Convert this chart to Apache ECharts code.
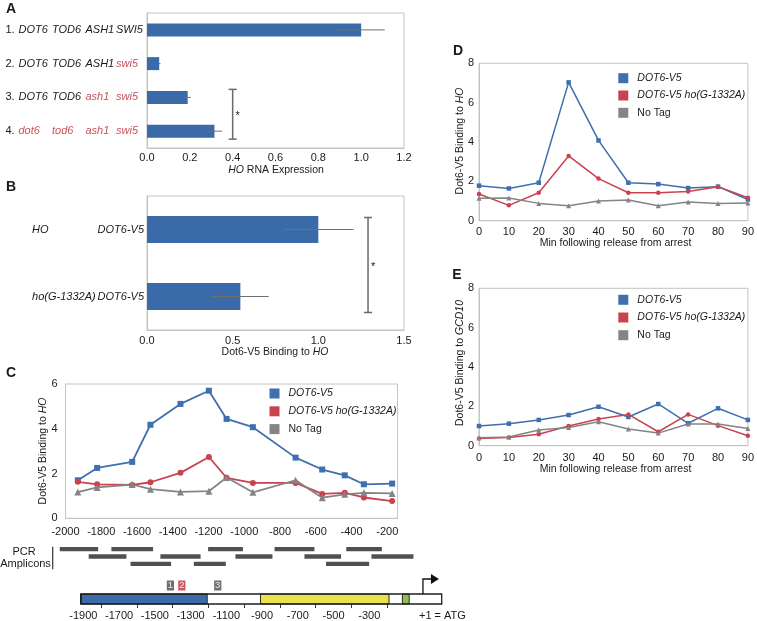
<!DOCTYPE html>
<html><head><meta charset="utf-8">
<script src="https://cdn.jsdelivr.net/npm/echarts@6/dist/echarts.min.js"></script>
<style>html,body{margin:0;padding:0;background:#fff}#c{width:757px;height:621px}</style>
</head><body><div id="c"></div>
<script>
// ---------- DATA ----------
// Panel A
const catsA = ['1. DOT6 TOD6 ASH1 SWI5','2. DOT6 TOD6 ASH1 swi5','3. DOT6 TOD6 ash1 swi5','4. dot6 tod6 ash1 swi5'];
const valsA = [1.0, 0.057, 0.19, 0.315];
const errA = [0.11, 0.006, 0.015, 0.035];
const ticksA = [0, 0.2, 0.4, 0.6, 0.8, 1.0, 1.2];
const sigA = [0.4, 2, 3];
// Panel B
const catsB = ['HO|DOT6-V5', 'ho(G-1332A)|DOT6-V5'];
const valsB = [1.0, 0.545];
const errB = [0.205, 0.165];
const ticksB = [0, 0.5, 1.0, 1.5];
const sigB = [1.29, 0, 1];
// Panel C
const seriesNames = ['DOT6-V5', 'DOT6-V5 ho(G-1332A)', 'No Tag'];
const posC = [-1931,-1823,-1627,-1525,-1357,-1198,-1099,-952,-713,-564,-438,-331,-173];
const blueC = [1.70,2.25,2.52,4.18,5.11,5.70,4.44,4.07,2.71,2.18,1.92,1.52,1.55];
const redC  = [1.63,1.52,1.49,1.61,2.03,2.74,1.81,1.58,1.58,1.09,1.14,0.93,0.77];
const grayC = [1.17,1.38,1.51,1.30,1.18,1.21,1.82,1.16,1.70,0.92,1.07,1.14,1.11];
const ticksCx = [-2000,-1800,-1600,-1400,-1200,-1000,-800,-600,-400,-200];
const ticksCy = [0, 2, 4, 6];
// PCR amplicons (bp) and row
const ampStart = [-2032,-1743,-1202,-830,-429, -1870,-1469,-1049,-663,-288, -1636,-1282,-542];
const ampEnd   = [-1817,-1510,-1007,-607,-230, -1659,-1244,-842,-458,-53,  -1409,-1103,-301];
const ampRow   = [0,0,0,0,0, 1,1,1,1,1, 2,2,2];
// Gene map (bp)
const geneBox = [-1915, 105];
const regionStart = [-1910, -909, -115];
const regionEnd   = [-1207, -190, -77];
const siteX = [-1413, -1349, -1148];
const siteLabel = ['1', '2', '3'];
const mapLabels = [-1900,-1700,-1500,-1300,-1100,-900,-700,-500,-300];
const mapTicks = [-1800,-1600,-1400,-1200,-1000,-800,-600,-400,-200];
// Panels D, E
const minutes = [0,10,20,30,40,50,60,70,80,90];
const blueD = [1.78,1.64,1.93,7.03,4.08,1.93,1.86,1.66,1.73,1.08];
const redD  = [1.36,0.78,1.42,3.29,2.14,1.42,1.42,1.49,1.73,1.17];
const grayD = [1.14,1.15,0.88,0.76,1.00,1.05,0.76,0.95,0.88,0.90];
const blueE = [1.00,1.12,1.31,1.56,1.98,1.46,2.12,1.14,1.90,1.31];
const redE  = [0.37,0.42,0.58,1.00,1.36,1.59,0.71,1.59,1.02,0.51];
const grayE = [0.41,0.44,0.80,0.93,1.22,0.85,0.64,1.10,1.10,0.88];
const ticksDE = [0, 2, 4, 6, 8];

// ---------- STYLE ----------
const FONT = '"Liberation Sans", Arial, Helvetica, sans-serif';
const TXT = '#1a1a1a';
const RED_TXT = '#c8505a';
const BLUE = '#3f6fae', RED = '#c9434f', GRAY = '#848484';
const BAR = '#3a6aa7';
const FRAME = '#c4c4c4';
const lab = {color: TXT, fontSize: 11, fontFamily: FONT};
const axLine = {show: true, lineStyle: {color: FRAME, width: 1}};
const noTick = {show: false};
const noSplit = {show: false};
const plain = v => String(v);

const chart = echarts.init(document.getElementById('c'), null, {renderer: 'canvas'});

function valAxis(grid, ticks, extra) {
  return Object.assign({
    gridIndex: grid, type: 'value', min: ticks[0], max: ticks[ticks.length - 1],
    interval: ticks[1] - ticks[0], axisLine: axLine, axisTick: noTick, splitLine: noSplit,
    axisLabel: Object.assign({}, lab)
  }, extra || {});
}
function hidden(grid, min, max, inverse) {
  return {gridIndex: grid, type: 'value', min, max, inverse: !!inverse, show: false,
    axisLine: {show: false}, axisTick: noTick, splitLine: noSplit, axisLabel: {show: false}};
}
function mkLine(name, xs, ys, axis, symbol, color, size, width) {
  return {type: 'line', name, xAxisIndex: axis, yAxisIndex: axis,
    data: xs.map((x, i) => [x, ys[i]]), symbol, symbolSize: size, showSymbol: true,
    lineStyle: {color, width}, itemStyle: {color}, emphasis: {disabled: true}, z: 3};
}
function errSeries(axis, vals, errs) {
  return {type: 'custom', xAxisIndex: axis, yAxisIndex: axis, z: 5,
    data: vals.map((v, i) => [v, i, errs[i]]), encode: {x: 0, y: 1},
    renderItem: (p, api) => {
      const v = api.value(0), i = api.value(1), e = api.value(2);
      const a = api.coord([v - e, i]), b = api.coord([v + e, i]);
      return {type: 'line', shape: {x1: a[0], y1: a[1], x2: b[0], y2: b[1]},
        style: {stroke: '#6f6f6f', lineWidth: 1}};
    }};
}
function sigSeries(axis, sig, extTop, extBot) {
  return {type: 'custom', xAxisIndex: axis, yAxisIndex: axis, z: 5,
    data: [sig], encode: {x: 0, y: 1},
    renderItem: (p, api) => {
      const x = api.value(0);
      const a = api.coord([x, api.value(1)]), b = api.coord([x, api.value(2)]);
      const y1 = a[1] - extTop, y2 = b[1] + extBot, cx = a[0];
      const st = {stroke: '#6a6a6a', lineWidth: 1.5};
      return {type: 'group', children: [
        {type: 'line', shape: {x1: cx, y1, x2: cx, y2}, style: st},
        {type: 'line', shape: {x1: cx - 4, y1, x2: cx + 4, y2: y1}, style: st},
        {type: 'line', shape: {x1: cx - 4, y1: y2, x2: cx + 4, y2}, style: st},
        {type: 'text', x: cx + 5, y: (y1 + y2) / 2 + 2,
          style: {text: '*', fill: TXT, fontSize: 11, fontFamily: FONT, align: 'center', verticalAlign: 'middle'}}
      ]};
    }};
}
function legendAt(left, top, gap) {
  return {data: seriesNames, orient: 'vertical', left, top, itemWidth: 10, itemHeight: 10,
    itemGap: gap, icon: 'rect', selectedMode: false, padding: 0,
    formatter: n => n === 'No Tag' ? '{n|' + n + '}' : '{i|' + n + '}',
    textStyle: {fontFamily: FONT, fontSize: 10.5, color: TXT,
      rich: {
        i: {fontFamily: FONT, fontSize: 10.5, color: TXT, fontStyle: 'italic', padding: [0, 0, 0, 4], lineHeight: 10},
        n: {fontFamily: FONT, fontSize: 10.5, color: TXT, padding: [0, 0, 0, 4], lineHeight: 10}
      }}};
}
function gtext(x, y, text, opts) {
  opts = opts || {};
  return {type: 'text', x, y, rotation: opts.rot || 0, z: 10,
    style: {text, fill: TXT, fontFamily: FONT, fontSize: opts.size || 10.5,
      fontWeight: opts.bold ? 'bold' : 'normal', align: opts.align || 'center',
      verticalAlign: 'middle',
      rich: {i: {fontStyle: 'italic', fontFamily: FONT, fontSize: opts.size || 10.5, fill: TXT}}}};
}

// Category label formatters
const richA = {n: {width: 13, align: 'left', fontSize: 11, fontFamily: FONT, color: TXT}};
const colW = [33.5, 33.5, 30.5, 27];
colW.forEach((w, k) => {
  richA['k' + k] = {width: w, align: 'left', fontSize: 11, fontFamily: FONT, fontStyle: 'italic', color: TXT};
  richA['r' + k] = {width: w, align: 'left', fontSize: 11, fontFamily: FONT, fontStyle: 'italic', color: RED_TXT};
});
function fmtA(v) {
  const parts = v.split(' ');
  let s = '{n|' + parts[0] + '}';
  parts.slice(1).forEach((g, k) => {
    const mutant = g === g.toLowerCase();
    s += '{' + (mutant ? 'r' : 'k') + k + '|' + g + '}';
  });
  return s;
}
function fmtB(v) {
  const p = v.split('|');
  return '{a|' + p[0] + '}{b|' + p[1] + '}';
}

const option = {
  animation: false,
  backgroundColor: '#fff',
  textStyle: {fontFamily: FONT},
  grid: [
    {left: 147, top: 13, width: 257, height: 135, show: true, borderColor: FRAME, borderWidth: 1},
    {left: 147, top: 196, width: 257, height: 134, show: true, borderColor: FRAME, borderWidth: 1},
    {left: 65.5, top: 384, width: 332, height: 134.3, show: true, borderColor: FRAME, borderWidth: 1},
    {left: 479, top: 63.3, width: 273, height: 157.4, show: true, borderColor: FRAME, borderWidth: 1},
    {left: 479, top: 288.3, width: 273, height: 157.4, show: true, borderColor: FRAME, borderWidth: 1},
    {left: 47.6, top: 545.5, width: 411.1, height: 22},
    {left: 47.6, top: 594, width: 411.1, height: 11}
  ],
  xAxis: [
    valAxis(0, ticksA, {axisLabel: Object.assign({}, lab, {margin: 4, formatter: v => v.toFixed(1)})}),
    valAxis(1, ticksB, {axisLabel: Object.assign({}, lab, {margin: 5, formatter: v => v.toFixed(1)})}),
    {gridIndex: 2, type: 'value', min: ticksCx[0], max: -143, interval: ticksCx[1] - ticksCx[0],
      axisLine: axLine, axisTick: noTick, splitLine: noSplit,
      axisLabel: Object.assign({}, lab, {margin: 8, customValues: ticksCx, formatter: plain})},
    {gridIndex: 3, type: 'value', min: 0, max: 90, interval: 10, axisLine: axLine, axisTick: noTick, splitLine: noSplit,
      axisLabel: Object.assign({}, lab, {margin: 6})},
    {gridIndex: 4, type: 'value', min: 0, max: 90, interval: 10, axisLine: axLine, axisTick: noTick, splitLine: noSplit,
      axisLabel: Object.assign({}, lab, {margin: 7})},
    hidden(5, -2100, 200),
    {gridIndex: 6, type: 'value', min: -2100, max: 200, axisLine: {show: false}, splitLine: noSplit,
      axisTick: {show: true, customValues: mapTicks, length: 4, lineStyle: {color: '#333', width: 1}},
      axisLabel: Object.assign({}, lab, {margin: 6, customValues: mapLabels, formatter: plain})}
  ],
  yAxis: [
    {gridIndex: 0, type: 'category', data: catsA, inverse: true, axisLine: axLine, axisTick: noTick,
      axisLabel: {interval: 0, margin: 4, formatter: fmtA, rich: richA}},
    {gridIndex: 1, type: 'category', data: catsB, inverse: true, axisLine: axLine, axisTick: noTick,
      axisLabel: {interval: 0, margin: 3, formatter: fmtB, rich: {
        a: {width: 65.5, align: 'left', fontSize: 11, fontFamily: FONT, fontStyle: 'italic', color: TXT},
        b: {align: 'left', fontSize: 11, fontFamily: FONT, fontStyle: 'italic', color: TXT}}}},
    valAxis(2, ticksCy, {axisLabel: Object.assign({}, lab, {margin: 8})}),
    valAxis(3, ticksDE, {axisLabel: Object.assign({}, lab, {margin: 5})}),
    valAxis(4, ticksDE, {axisLabel: Object.assign({}, lab, {margin: 5})}),
    hidden(5, 0, 3, true),
    hidden(6, 0, 1)
  ],
  legend: [legendAt(269.5, 388, 6.8), legendAt(618.3, 72.7, 6.3), legendAt(618.3, 294.3, 6.7)],
  series: [
    // A
    {type: 'bar', xAxisIndex: 0, yAxisIndex: 0, data: valsA, barWidth: 13, itemStyle: {color: BAR}, z: 2},
    errSeries(0, valsA, errA),
    sigSeries(0, sigA, 8, 8),
    // B
    {type: 'bar', xAxisIndex: 1, yAxisIndex: 1, data: valsB, barWidth: 27, itemStyle: {color: BAR}, z: 2},
    errSeries(1, valsB, errB),
    sigSeries(1, sigB, 12, 16),
    // C
    mkLine(seriesNames[0], posC, blueC, 2, 'rect', BLUE, 6, 1.8),
    mkLine(seriesNames[1], posC, redC, 2, 'circle', RED, 6, 1.8),
    mkLine(seriesNames[2], posC, grayC, 2, 'triangle', GRAY, 7, 1.8),
    // D
    mkLine(seriesNames[0], minutes, blueD, 3, 'rect', BLUE, 4.5, 1.5),
    mkLine(seriesNames[1], minutes, redD, 3, 'circle', RED, 4.5, 1.5),
    mkLine(seriesNames[2], minutes, grayD, 3, 'triangle', GRAY, 5, 1.5),
    // E
    mkLine(seriesNames[0], minutes, blueE, 4, 'rect', BLUE, 4.5, 1.5),
    mkLine(seriesNames[1], minutes, redE, 4, 'circle', RED, 4.5, 1.5),
    mkLine(seriesNames[2], minutes, grayE, 4, 'triangle', GRAY, 5, 1.5),
    // PCR amplicons
    {type: 'custom', xAxisIndex: 5, yAxisIndex: 5, encode: {x: [0, 1], y: 2},
      data: ampStart.map((s, i) => [s, ampEnd[i], ampRow[i]]),
      renderItem: (p, api) => {
        const r = api.value(2) + 0.5;
        const a = api.coord([api.value(0), r]), b = api.coord([api.value(1), r]);
        return {type: 'rect', shape: {x: a[0], y: a[1] - 2.2, width: b[0] - a[0], height: 4.4},
          style: {fill: '#505050'}};
      }},
    // Gene map: box background
    {type: 'custom', xAxisIndex: 6, yAxisIndex: 6, z: 2, encode: {x: [0, 1]},
      data: [geneBox],
      renderItem: (p, api) => {
        const a = api.coord([api.value(0), 1]), b = api.coord([api.value(1), 0]);
        return {type: 'rect', shape: {x: a[0], y: a[1], width: b[0] - a[0], height: b[1] - a[1]},
          style: {fill: '#fff', stroke: 'none'}};
      }},
    // Gene map: regions
    {type: 'custom', xAxisIndex: 6, yAxisIndex: 6, z: 3, encode: {x: [0, 1]},
      data: regionStart.map((s, i) => [s, regionEnd[i], i]),
      renderItem: (p, api) => {
        const fills = ['#3b6bab', '#e8e24e', '#8fbf4e'];
        const a = api.coord([api.value(0), 1]), b = api.coord([api.value(1), 0]);
        return {type: 'rect', shape: {x: a[0], y: a[1], width: b[0] - a[0], height: b[1] - a[1]},
          style: {fill: fills[api.value(2)], stroke: '#2a2a2a', lineWidth: 1}};
      }},
    // Gene map: outline
    {type: 'custom', xAxisIndex: 6, yAxisIndex: 6, z: 4, encode: {x: [0, 1]},
      data: [geneBox],
      renderItem: (p, api) => {
        const a = api.coord([api.value(0), 1]), b = api.coord([api.value(1), 0]);
        return {type: 'rect', shape: {x: a[0], y: a[1], width: b[0] - a[0], height: b[1] - a[1]},
          style: {fill: 'none', stroke: '#1f1f1f', lineWidth: 1.3}};
      }},
    // Gene map: sites
    {type: 'custom', xAxisIndex: 6, yAxisIndex: 6, z: 4, encode: {x: 0},
      data: siteX.map((x, i) => [x, i]),
      renderItem: (p, api) => {
        const i = api.value(1);
        const c = api.coord([api.value(0), 1]);
        const fill = i === 1 ? '#cc5560' : '#6e6e6e';
        return {type: 'group', children: [
          {type: 'rect', shape: {x: c[0] - 3.6, y: c[1] - 13.5, width: 7.2, height: 10}, style: {fill}},
          {type: 'text', x: c[0], y: c[1] - 8.3,
            style: {text: siteLabel[i], fill: '#eee', fontSize: 9.5, fontFamily: FONT, align: 'center', verticalAlign: 'middle'}}
        ]};
      }},
    // Gene map: transcription start arrow at +1
    {type: 'custom', xAxisIndex: 6, yAxisIndex: 6, z: 4, encode: {x: 0},
      data: [[0]],
      renderItem: (p, api) => {
        const c = api.coord([api.value(0), 1]);
        const x = c[0], y = c[1];
        return {type: 'group', children: [
          {type: 'polyline', shape: {points: [[x, y], [x, y - 15], [x + 9, y - 15]]},
            style: {stroke: '#111', lineWidth: 1.3, fill: 'none'}},
          {type: 'polygon', shape: {points: [[x + 8, y - 20], [x + 16, y - 15], [x + 8, y - 10]]},
            style: {fill: '#111'}}
        ]};
      }}
  ],
  graphic: [
    gtext(11, 9, 'A', {bold: true, size: 14}),
    gtext(11, 187, 'B', {bold: true, size: 14}),
    gtext(11, 373, 'C', {bold: true, size: 14}),
    gtext(458, 51, 'D', {bold: true, size: 14}),
    gtext(457, 275, 'E', {bold: true, size: 14}),
    gtext(276, 170, '{i|HO} RNA Expression'),
    gtext(275, 352, 'Dot6-V5 Binding to {i|HO}'),
    gtext(43, 451, 'Dot6-V5 Binding to {i|HO}', {rot: Math.PI / 2}),
    gtext(460, 141, 'Dot6-V5 Binding to {i|HO}', {rot: Math.PI / 2}),
    gtext(460, 363, 'Dot6-V5 Binding to {i|GCD10}', {rot: Math.PI / 2}),
    gtext(615.5, 243, 'Min following release from arrest'),
    gtext(615.5, 469, 'Min following release from arrest'),
    gtext(24, 551.5, 'PCR', {size: 11}),
    gtext(25.5, 564.3, 'Amplicons', {size: 11}),
    {type: 'line', shape: {x1: 52.7, y1: 546.7, x2: 52.7, y2: 569.3}, style: {stroke: '#333', lineWidth: 1.2}},
    gtext(419, 615.7, '+1 = ATG', {size: 11, align: 'left'})
  ]
};
chart.setOption(option);
</script>
</body></html>
